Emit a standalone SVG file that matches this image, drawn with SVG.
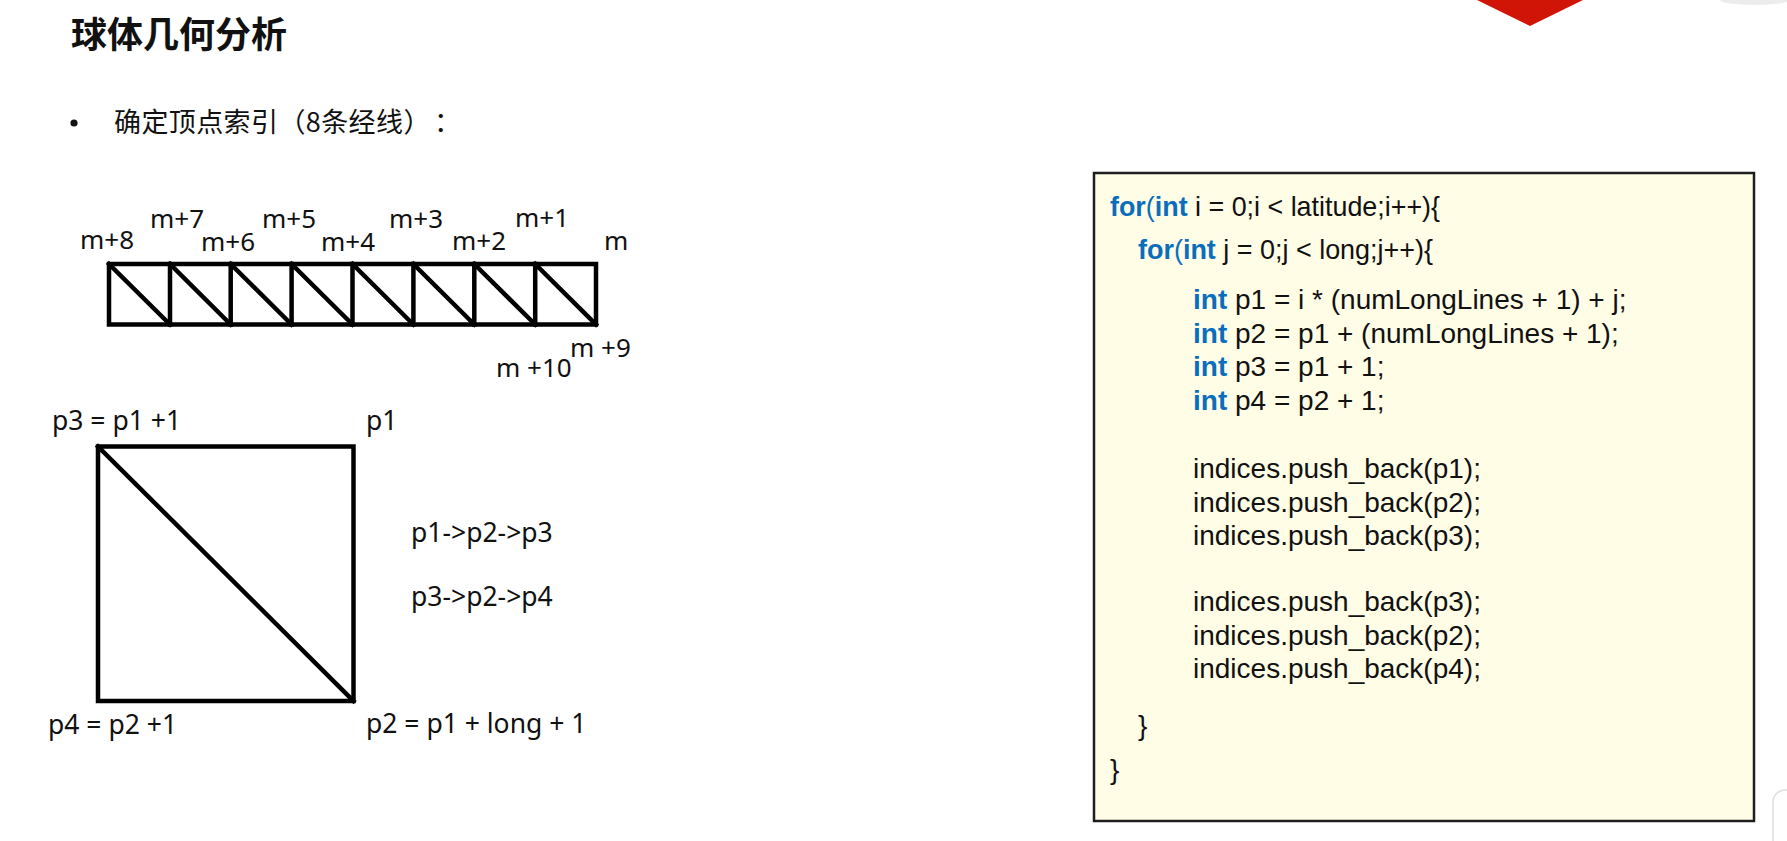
<svg xmlns="http://www.w3.org/2000/svg" width="1787" height="841" viewBox="0 0 1787 841">
<style>
.lbl{font-family:"Noto Sans","DejaVu Sans",sans-serif;font-size:26px;fill:#111}
.pl{font-size:26.5px}
.cjk{font-family:"Noto Sans CJK SC","Noto Sans",sans-serif;fill:#111;text-spacing-trim:space-all}
.code{font-family:"Liberation Sans",Arial,sans-serif;font-size:28px;fill:#111}
.kw{fill:#0a6ebd}
.b{font-weight:bold}
.ln{stroke:#000;stroke-width:4.5;fill:none;stroke-linecap:square}
</style>
<rect width="1787" height="841" fill="#fff"/>
<polygon points="1477,0 1583,0 1530,26" fill="#d01406"/>
<ellipse cx="1755" cy="0" rx="35" ry="5" fill="#ececec"/>
<rect x="1773" y="790" width="40" height="80" rx="12" fill="#fff" stroke="#dedede" stroke-width="1.5"/>

<g id="title">
<text class="cjk" x="71" y="47.5" font-size="36" font-weight="bold">球体几何分析</text>
</g>
<g id="bullet">
<circle cx="74" cy="123" r="3.6" fill="#111"/>
<text class="cjk" x="114" y="132" font-size="27" letter-spacing="0.4">确定顶点索引（8条经线）</text>
<text class="cjk" x="434" y="132" font-size="27">：</text>
</g>

<g id="strip">
<rect class="ln" x="109" y="264" width="487" height="60.5"/>
<path class="ln" d="M170,264V324.5M230.7,264V324.5M291.6,264V324.5M352.5,264V324.5M413.4,264V324.5M474.3,264V324.5M535.2,264V324.5"/>
<path class="ln" d="M109,264L170,324.5M170,264L230.7,324.5M230.7,264L291.6,324.5M291.6,264L352.5,324.5M352.5,264L413.4,324.5M413.4,264L474.3,324.5M474.3,264L535.2,324.5M535.2,264L596,324.5"/>
</g>
<g id="strip-labels">
<text class="lbl" x="80" y="249">m+8</text>
<text class="lbl" x="150" y="228">m+7</text>
<text class="lbl" x="201" y="251">m+6</text>
<text class="lbl" x="262" y="228">m+5</text>
<text class="lbl" x="321" y="251">m+4</text>
<text class="lbl" x="389" y="228">m+3</text>
<text class="lbl" x="452" y="250">m+2</text>
<text class="lbl" x="515" y="227">m+1</text>
<text class="lbl" x="604" y="250">m</text>
<text class="lbl" x="570" y="357">m +9</text>
<text class="lbl" x="496" y="377">m +10</text>
</g>

<g id="quad">
<rect class="ln" x="98" y="446.5" width="255.5" height="254.5"/>
<path class="ln" d="M98,446.5L353.5,701"/>
</g>
<g id="quad-labels">
<text class="lbl pl" x="52" y="430">p3 = p1 +1</text>
<text class="lbl pl" x="366" y="430">p1</text>
<text class="lbl pl" x="411" y="542">p1-&gt;p2-&gt;p3</text>
<text class="lbl pl" x="411" y="606">p3-&gt;p2-&gt;p4</text>
<text class="lbl pl" x="48" y="734">p4 = p2 +1</text>
<text class="lbl pl" x="366" y="733">p2 = p1 + long + 1</text>
</g>

<g id="code">
<rect x="1094" y="173" width="660" height="648" fill="#fffde6" stroke="#1e1e1e" stroke-width="2.5"/>
<text class="code" x="1110" y="216" textLength="330" lengthAdjust="spacingAndGlyphs"><tspan class="kw b">for</tspan><tspan class="kw">(</tspan><tspan class="kw b">int</tspan> i = 0;i &lt; latitude;i++){</text>
<text class="code" x="1138" y="259" textLength="295" lengthAdjust="spacingAndGlyphs"><tspan class="kw b">for</tspan><tspan class="kw">(</tspan><tspan class="kw b">int</tspan> j = 0;j &lt; long;j++){</text>
<text class="code" x="1193" y="309"><tspan class="kw b">int</tspan> p1 = i * (numLongLines + 1) + j;</text>
<text class="code" x="1193" y="342.5"><tspan class="kw b">int</tspan> p2 = p1 + (numLongLines + 1);</text>
<text class="code" x="1193" y="376"><tspan class="kw b">int</tspan> p3 = p1 + 1;</text>
<text class="code" x="1193" y="409.5"><tspan class="kw b">int</tspan> p4 = p2 + 1;</text>
<text class="code" x="1193" y="478">indices.push_back(p1);</text>
<text class="code" x="1193" y="511.5">indices.push_back(p2);</text>
<text class="code" x="1193" y="545">indices.push_back(p3);</text>
<text class="code" x="1193" y="611">indices.push_back(p3);</text>
<text class="code" x="1193" y="644.5">indices.push_back(p2);</text>
<text class="code" x="1193" y="678">indices.push_back(p4);</text>
<text class="code" x="1138" y="735">}</text>
<text class="code" x="1110" y="779">}</text>
</g>
</svg>
